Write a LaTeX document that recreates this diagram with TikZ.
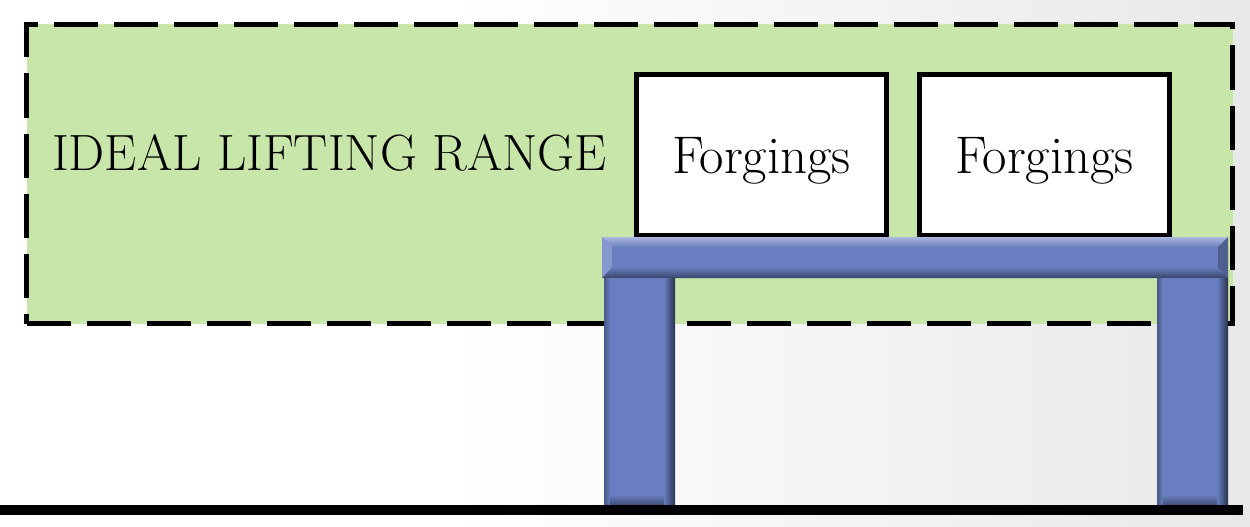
\documentclass[tikz,border=0pt]{standalone}
\definecolor{rangegreen}{RGB}{201,230,170}
\definecolor{tableblue}{RGB}{104,126,192}
\begin{document}
\begin{tikzpicture}[x=1pt,y=-1pt,
  rangebox/.style={draw=black, line width=5pt, dash pattern=on 44pt off 16pt,
    fill=rangegreen, inner sep=0pt, minimum width=1206pt, minimum height=299pt},
  cargo/.style={draw=black, line width=5pt, fill=white, inner sep=0pt,
    minimum width=250pt, minimum height=161pt, text height=40pt, text depth=4pt,
    font=\fontsize{53}{60}\selectfont},
  rangetext/.style={inner sep=0pt, font=\fontsize{51}{60}\selectfont}]
\useasboundingbox (0,0) rectangle (1250,527);
% soft page background, greying towards the right
\fill[white] (0,0) rectangle (1250,527);
\shade[left color=white, right color=black!9] (450,0) rectangle (1250,527);

% lifting range
\node[rangebox, anchor=north west] (range) at (24,22) {};
\node[rangetext, anchor=base west] (rangelabel) at (52,170) {IDEAL LIFTING RANGE};

% forgings on the table
\node[cargo] (forge1) at (761.5,155) {Forgings};
\node[cargo] (forge2) at (1044.5,155) {Forgings};

% table top with bevelled edges
\fill[tableblue] (602,237) rectangle (1228,278);
\shade[top color=tableblue!55!white, bottom color=tableblue]
  (602,237) -- (1228,237) -- (1218,247) -- (612,247) -- cycle;
\shade[top color=tableblue, bottom color=tableblue!55!black]
  (612,267) -- (1218,267) -- (1228,278) -- (602,278) -- cycle;
\fill[tableblue!80!white] (602,237) -- (612,247) -- (612,267) -- (602,278) -- cycle;
\fill[tableblue!75!black] (1228,237) -- (1218,247) -- (1218,267) -- (1228,278) -- cycle;

% table legs
\foreach \lx in {604,1157}{
  \fill[tableblue] (\lx,278) rectangle (\lx+71,505);
  \shade[left color=tableblue!70!black, right color=tableblue] (\lx,278) rectangle (\lx+6,505);
  \shade[left color=tableblue, right color=tableblue!40!black] (\lx+60,278) rectangle (\lx+71,505);
  \shade[top color=tableblue, bottom color=tableblue!60!black] (\lx+6,495) rectangle (\lx+60,505);
}

% floor
\fill[black] (0,505) rectangle (1243,515);
\end{tikzpicture}
\end{document}
